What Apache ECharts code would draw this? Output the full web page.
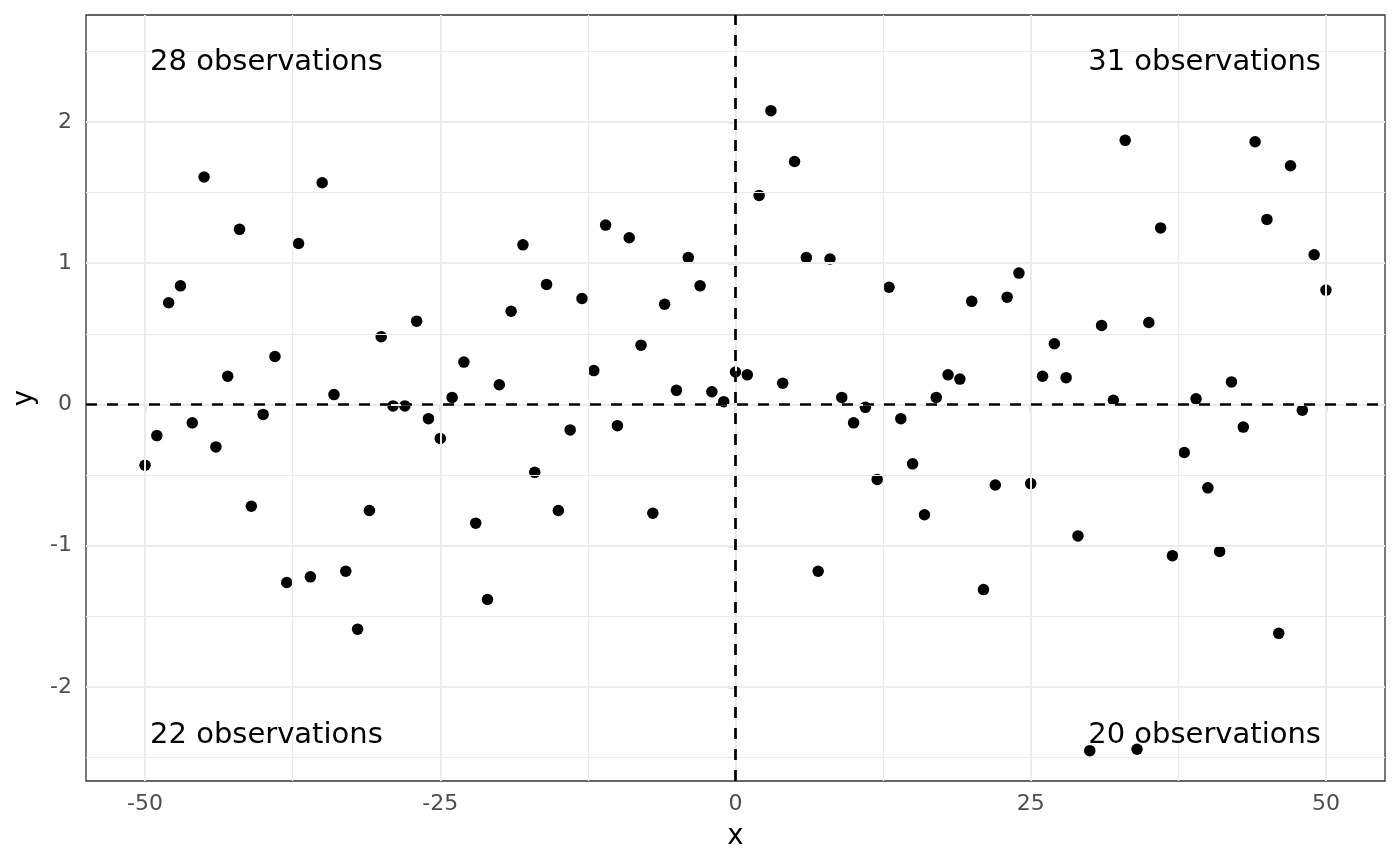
<!DOCTYPE html>
<html>
<head>
<meta charset="utf-8">
<style>
  html, body { margin: 0; padding: 0; background: #ffffff; }
  #chart { width: 1400px; height: 866px; }
</style>
<script src="https://cdn.jsdelivr.net/npm/echarts@6/dist/echarts.min.js"></script>
</head>
<body>
<div id="chart"></div>
<script>
// values
const xValues = [
  -50, -49, -48, -47, -46, -45, -44, -43, -42, -41, -40, -39, -38, -37, -36, -35, -34,
  -33, -32, -31, -30, -29, -28, -27, -26, -25, -24, -23, -22, -21, -20, -19, -18, -17,
  -16, -15, -14, -13, -12, -11, -10, -9, -8, -7, -6, -5, -4, -3, -2, -1, 0,
  1, 2, 3, 4, 5, 6, 7, 8, 9, 10, 11, 12, 13, 14, 15, 16, 17,
  18, 19, 20, 21, 22, 23, 24, 25, 26, 27, 28, 29, 30, 31, 32, 33, 34,
  35, 36, 37, 38, 39, 40, 41, 42, 43, 44, 45, 46, 47, 48, 49, 50
];
const yValues = [
  -0.43, -0.22, 0.72, 0.84, -0.13, 1.61, -0.30, 0.20, 1.24, -0.72, -0.07, 0.34, -1.26, 1.14, -1.22, 1.57, 0.07,
  -1.18, -1.59, -0.75, 0.48, -0.01, -0.01, 0.59, -0.10, -0.24, 0.05, 0.30, -0.84, -1.38, 0.14, 0.66, 1.13, -0.48,
  0.85, -0.75, -0.18, 0.75, 0.24, 1.27, -0.15, 1.18, 0.42, -0.77, 0.71, 0.10, 1.04, 0.84, 0.09, 0.02, 0.23,
  0.21, 1.48, 2.08, 0.15, 1.72, 1.04, -1.18, 1.03, 0.05, -0.13, -0.02, -0.53, 0.83, -0.10, -0.42, -0.78, 0.05,
  0.21, 0.18, 0.73, -1.31, -0.57, 0.76, 0.93, -0.56, 0.20, 0.43, 0.19, -0.93, -2.45, 0.56, 0.03, 1.87, -2.44,
  0.58, 1.25, -1.07, -0.34, 0.04, -0.59, -1.04, 0.16, -0.16, 1.86, 1.31, -1.62, 1.69, -0.04, 1.06, 0.81
];

const xTicks = [-50, -25, 0, 25, 50];
const yTicks = [-2, -1, 0, 1, 2];
const xMinorGrid = [-37.5, -12.5, 12.5, 37.5];
const yMinorGrid = [-2.5, -1.5, -0.5, 0.5, 1.5, 2.5];

const quadrantLabels = ['28 observations', '31 observations', '22 observations', '20 observations'];
const quadrantLabelX = [-50, 50, -50, 50];
const quadrantLabelY = [2.42, 2.42, -2.34, -2.34];

const points = xValues.map((x, i) => [x, yValues[i]]);

function gridLines(values, axis, width) {
  return values.map(v => ({
    [axis]: v,
    lineStyle: { color: '#EBEBEB', width, type: 'solid' }
  }));
}

const chart = echarts.init(document.getElementById('chart'), null, { renderer: 'canvas' });

const tickFont = { color: '#4D4D4D', fontSize: 22, fontFamily: 'DejaVu Sans' };

chart.setOption({
  backgroundColor: '#ffffff',
  animation: false,
  grid: {
    left: 86,
    right: 15,
    top: 15,
    bottom: 85,
    show: true,
    borderColor: '#333333',
    borderWidth: 1.3,
    backgroundColor: 'transparent'
  },
  xAxis: {
    type: 'value',
    min: -55,
    max: 55,
    name: 'x',
    nameLocation: 'middle',
    nameGap: 42,
    nameTextStyle: { color: '#000000', fontSize: 27.5, fontFamily: 'DejaVu Sans' },
    axisLine: { show: false },
    splitLine: { show: false },
    axisTick: {
      show: true,
      length: 7,
      customValues: xTicks,
      lineStyle: { color: '#333333', width: 1.3 }
    },
    axisLabel: Object.assign({ margin: 12, customValues: xTicks, showMinLabel: true, showMaxLabel: true }, tickFont)
  },
  yAxis: {
    type: 'value',
    min: -2.665,
    max: 2.757,
    name: 'y',
    nameLocation: 'middle',
    nameGap: 42,
    nameTextStyle: { color: '#000000', fontSize: 27.5, fontFamily: 'DejaVu Sans' },
    axisLine: { show: false },
    splitLine: { show: false },
    axisTick: {
      show: true,
      length: 7,
      customValues: yTicks,
      lineStyle: { color: '#333333', width: 1.3 }
    },
    axisLabel: Object.assign({ margin: 14, customValues: yTicks }, tickFont)
  },
  series: [
    {
      // background grid, drawn under everything
      name: 'grid',
      type: 'scatter',
      z: 1,
      silent: true,
      symbolSize: 0,
      data: points,
      markLine: {
        silent: true,
        symbol: 'none',
        animation: false,
        label: { show: false },
        data: [
          ...gridLines(xMinorGrid, 'xAxis', 1.2),
          ...gridLines(yMinorGrid, 'yAxis', 1.2),
          ...gridLines(xTicks, 'xAxis', 2),
          ...gridLines(yTicks, 'yAxis', 2)
        ]
      }
    },
    {
      name: 'reference',
      type: 'scatter',
      z: 3,
      silent: true,
      symbolSize: 0,
      data: points,
      markLine: {
        silent: true,
        symbol: 'none',
        animation: false,
        label: { show: false },
        lineStyle: { color: '#000000', width: 2.7, type: [11, 10], opacity: 1 },
        data: [{ xAxis: 0 }, { yAxis: 0 }]
      }
    },
    {
      name: 'points',
      type: 'scatter',
      z: 4,
      symbol: 'circle',
      symbolSize: 11.5,
      itemStyle: { color: '#000000', opacity: 1 },
      emphasis: { disabled: true },
      data: points
    },
    {
      name: 'counts',
      type: 'scatter',
      z: 5,
      silent: true,
      symbolSize: 0,
      itemStyle: { opacity: 1 },
      data: quadrantLabels.map((t, i) => ({
        value: [quadrantLabelX[i], quadrantLabelY[i]],
        label: {
          show: true,
          formatter: t,
          position: quadrantLabelX[i] < 0 ? 'right' : 'left',
          distance: 5,
          color: '#000000',
          opacity: 1,
          fontSize: 29,
          fontFamily: 'DejaVu Sans'
        }
      }))
    }
  ]
});
</script>
</body>
</html>
